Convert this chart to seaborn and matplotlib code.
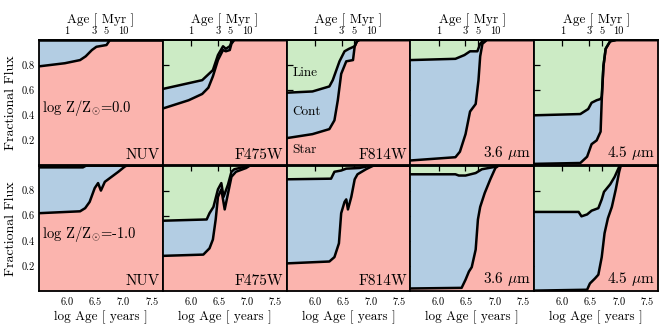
import numpy as np
import pandas as pd
import matplotlib
matplotlib.use("Agg")
import matplotlib.pyplot as plt
import seaborn as sns

# ---------------- data ----------------
bands = ["NUV", "F475W", "F814W", "3.6 $\\mu$m", "4.5 $\\mu$m"]
metallicities = ["0.0", "-1.0"]
xtick_vals = [6.0, 6.5, 7.0, 7.5]
ytick_vals = [0.2, 0.4, 0.6, 0.8]
top_tick_myr = [1, 3, 5, 10]
component_labels = ["Line", "Cont", "Star"]
component_label_y = [0.74, 0.43, 0.12]

# log Z/Zsun = 0.0
nuv_z0_star_x = [5.5, 5.96, 6.23, 6.33, 6.44, 6.52, 6.70, 6.73, 6.76, 7.7]
nuv_z0_star_y = [0.79, 0.815, 0.84, 0.87, 0.92, 0.946, 0.96, 0.98, 1.0, 1.0]
nuv_z0_cont_x = [5.5, 7.7]
nuv_z0_cont_y = [1.0, 1.0]

f475_z0_star_x = [5.5, 5.96, 6.20, 6.31, 6.39, 6.48, 6.57, 6.62, 6.69, 6.72, 6.77, 7.7]
f475_z0_star_y = [0.454, 0.52, 0.57, 0.62, 0.71, 0.84, 0.92, 0.91, 0.92, 0.97, 1.0, 1.0]
f475_z0_cont_x = [5.5, 6.20, 6.39, 6.48, 6.57, 6.62, 6.69, 6.73, 6.77, 7.7]
f475_z0_cont_y = [0.61, 0.68, 0.76, 0.88, 0.95, 0.93, 0.95, 0.99, 1.0, 1.0]

f814_z0_star_x = [5.5, 5.96, 6.26, 6.35, 6.41, 6.47, 6.56, 6.68, 6.71, 6.76, 7.7]
f814_z0_star_y = [0.218, 0.25, 0.29, 0.36, 0.52, 0.73, 0.83, 0.84, 0.95, 1.0, 1.0]
f814_z0_cont_x = [5.5, 5.96, 6.26, 6.32, 6.44, 6.53, 6.61, 6.71, 6.75, 6.80, 7.7]
f814_z0_cont_y = [0.58, 0.59, 0.63, 0.68, 0.83, 0.91, 0.93, 0.95, 0.99, 1.0, 1.0]

i36_z0_star_x = [5.5, 6.30, 6.38, 6.48, 6.56, 6.66, 6.71, 6.74, 6.78, 6.86, 7.7]
i36_z0_star_y = [0.04, 0.066, 0.11, 0.25, 0.43, 0.49, 0.68, 0.87, 0.97, 1.0, 1.0]
i36_z0_cont_x = [5.5, 6.30, 6.46, 6.56, 6.69, 6.74, 6.80, 7.7]
i36_z0_cont_y = [0.84, 0.85, 0.88, 0.91, 0.91, 0.97, 1.0, 1.0]

i45_z0_star_x = [5.5, 6.32, 6.44, 6.52, 6.61, 6.68, 6.70, 6.73, 6.77, 6.85, 6.96, 7.7]
i45_z0_star_y = [0.013, 0.02, 0.07, 0.17, 0.2, 0.27, 0.52, 0.79, 0.93, 0.99, 1.0, 1.0]
i45_z0_cont_x = [5.5, 6.32, 6.46, 6.52, 6.61, 6.68, 6.70, 6.73, 6.77, 6.85, 6.96, 7.7]
i45_z0_cont_y = [0.40, 0.41, 0.45, 0.50, 0.52, 0.53, 0.55, 0.79, 0.93, 0.99, 1.0, 1.0]

# log Z/Zsun = -1.0
nuv_zm1_star_x = [5.5, 6.23, 6.32, 6.40, 6.49, 6.55, 6.60, 6.67, 6.79, 6.91, 7.02, 7.06, 7.7]
nuv_zm1_star_y = [0.62, 0.635, 0.66, 0.71, 0.82, 0.86, 0.80, 0.87, 0.91, 0.95, 0.99, 1.0, 1.0]
nuv_zm1_cont_x = [5.5, 6.28, 6.34, 7.7]
nuv_zm1_cont_y = [0.985, 0.985, 1.0, 1.0]

f475_zm1_star_x = [5.5, 6.22, 6.33, 6.39, 6.44, 6.48, 6.54, 6.60, 6.66, 6.72, 6.80, 6.98, 7.05, 7.7]
f475_zm1_star_y = [0.28, 0.29, 0.34, 0.41, 0.57, 0.75, 0.81, 0.65, 0.78, 0.91, 0.95, 0.98, 1.0, 1.0]
f475_zm1_cont_x = [5.5, 6.28, 6.33, 6.40, 6.48, 6.54, 6.58, 6.66, 6.72, 6.77, 7.05, 7.7]
f475_zm1_cont_y = [0.56, 0.57, 0.62, 0.67, 0.81, 0.86, 0.75, 0.85, 0.95, 0.97, 1.0, 1.0]

f814_zm1_star_x = [5.5, 6.26, 6.35, 6.43, 6.47, 6.53, 6.56, 6.59, 6.65, 6.71, 6.76, 6.91, 7.00, 7.05, 7.7]
f814_zm1_star_y = [0.22, 0.235, 0.27, 0.38, 0.62, 0.71, 0.73, 0.65, 0.75, 0.89, 0.93, 0.97, 0.99, 1.0, 1.0]
f814_zm1_cont_x = [5.5, 6.29, 6.35, 6.47, 6.56, 6.79, 7.01, 7.7]
f814_zm1_cont_y = [0.89, 0.895, 0.95, 0.96, 0.975, 0.98, 1.0, 1.0]

i36_zm1_star_x = [5.5, 6.41, 6.48, 6.54, 6.59, 6.66, 6.70, 6.74, 6.82, 6.92, 6.97, 7.01, 7.07, 7.7]
i36_zm1_star_y = [0.02, 0.025, 0.09, 0.155, 0.19, 0.33, 0.57, 0.67, 0.78, 0.89, 0.94, 0.98, 1.0, 1.0]
i36_zm1_cont_x = [5.5, 6.30, 6.36, 6.48, 6.66, 6.77, 7.01, 7.07, 7.7]
i36_zm1_cont_y = [0.93, 0.93, 0.92, 0.92, 0.94, 0.97, 0.99, 1.0, 1.0]

i45_zm1_star_x = [5.5, 6.44, 6.49, 6.58, 6.64, 6.70, 6.75, 6.81, 6.88, 6.95, 7.01, 7.04, 7.7]
i45_zm1_star_y = [0.003, 0.01, 0.06, 0.10, 0.13, 0.27, 0.46, 0.58, 0.67, 0.81, 0.95, 1.0, 1.0]
i45_zm1_cont_x = [5.5, 6.29, 6.34, 6.44, 6.52, 6.64, 6.70, 6.74, 6.85, 6.93, 7.01, 7.04, 7.7]
i45_zm1_cont_y = [0.63, 0.63, 0.595, 0.61, 0.64, 0.66, 0.73, 0.79, 0.85, 0.91, 0.99, 1.0, 1.0]

panels = [
    [(nuv_z0_star_x, nuv_z0_star_y, nuv_z0_cont_x, nuv_z0_cont_y),
     (f475_z0_star_x, f475_z0_star_y, f475_z0_cont_x, f475_z0_cont_y),
     (f814_z0_star_x, f814_z0_star_y, f814_z0_cont_x, f814_z0_cont_y),
     (i36_z0_star_x, i36_z0_star_y, i36_z0_cont_x, i36_z0_cont_y),
     (i45_z0_star_x, i45_z0_star_y, i45_z0_cont_x, i45_z0_cont_y)],
    [(nuv_zm1_star_x, nuv_zm1_star_y, nuv_zm1_cont_x, nuv_zm1_cont_y),
     (f475_zm1_star_x, f475_zm1_star_y, f475_zm1_cont_x, f475_zm1_cont_y),
     (f814_zm1_star_x, f814_zm1_star_y, f814_zm1_cont_x, f814_zm1_cont_y),
     (i36_zm1_star_x, i36_zm1_star_y, i36_zm1_cont_x, i36_zm1_cont_y),
     (i45_zm1_star_x, i45_zm1_star_y, i45_zm1_cont_x, i45_zm1_cont_y)],
]

# ---------------- style ----------------
sns.set_style("ticks")
plt.rcParams["font.family"] = ["cmr10", "DejaVu Serif"]
plt.rcParams["mathtext.fontset"] = "cm"
plt.rcParams["axes.unicode_minus"] = False
plt.rcParams["axes.formatter.use_mathtext"] = True
plt.rcParams["axes.linewidth"] = 1.3
plt.rcParams["axes.edgecolor"] = "black"
plt.rcParams["xtick.color"] = "black"
plt.rcParams["ytick.color"] = "black"
plt.rcParams["text.color"] = "black"
plt.rcParams["axes.labelcolor"] = "black"

RED = "#fbb4ae"
BLUE = "#b3cde3"
GREEN = "#ccebc5"
XLIM = (5.5, 7.7)
TICK_FS = 7.5

fig, axes = plt.subplots(2, 5, figsize=(6.64, 3.32), dpi=100)
fig.subplots_adjust(left=39 / 664, right=658 / 664, top=1 - 40 / 332,
                    bottom=1 - 291 / 332, wspace=0, hspace=0)


def to_myr(x):
    return 10 ** (np.asarray(x, dtype=float) - 6.0)


def from_myr(m):
    return np.log10(np.maximum(np.asarray(m, dtype=float), 1e-12)) + 6.0


for r in range(2):
    for c in range(5):
        ax = axes[r, c]
        sx, sy, cx, cy = panels[r][c]
        ax.set_facecolor(GREEN)
        ax.fill_between(cx, 0, cy, color=BLUE, lw=0, zorder=1)
        ax.fill_between(sx, 0, sy, color=RED, lw=0, zorder=2)
        sns.lineplot(x=cx, y=cy, ax=ax, color="k", lw=1.8, estimator=None,
                     sort=False, zorder=3)
        sns.lineplot(x=sx, y=sy, ax=ax, color="k", lw=1.8, estimator=None,
                     sort=False, zorder=3)
        ax.set_xlim(*XLIM)
        ax.set_ylim(0, 1)
        ax.set_xticks(xtick_vals)
        ax.set_yticks(ytick_vals)
        ax.tick_params(axis="both", which="major", direction="in", length=4,
                       width=0.9, labelsize=TICK_FS, pad=3,
                       left=True, right=True, bottom=True, top=False)
        ax.tick_params(axis="x", pad=5)
        if c == 0:
            ax.set_yticklabels([f"{v:.1f}" for v in ytick_vals])
            ax.set_ylabel("Fractional Flux", fontsize=10, labelpad=3)
        else:
            ax.set_yticklabels([])
            ax.set_ylabel("")
        if r == 1:
            ax.set_xticklabels([f"{v:.1f}" for v in xtick_vals])
            ax.set_xlabel("log Age [ years ]", fontsize=9.5, labelpad=2)
        else:
            ax.set_xticklabels([])
            ax.set_xlabel("")

        sec = ax.secondary_xaxis("top", functions=(to_myr, from_myr))
        sec.set_xticks(top_tick_myr)
        sec.tick_params(direction="in", length=4, width=0.9, labelsize=TICK_FS,
                        pad=3)
        if r == 0:
            sec.set_xticklabels([str(v) for v in top_tick_myr])
            sec.set_xlabel("Age [ Myr ]", fontsize=9.5, labelpad=2.5)
        else:
            sec.set_xticklabels([])

        ax.text(0.975, 0.025, bands[c], transform=ax.transAxes, ha="right",
                va="bottom", fontsize=11, zorder=5)
        if c == 0:
            ax.text(0.025, 0.456, "log Z/Z$_{\\odot}$=" + metallicities[r],
                    transform=ax.transAxes, ha="left", va="center",
                    fontsize=10.5, zorder=5)
        if r == 0 and c == 2:
            for lab, yy in zip(component_labels, component_label_y):
                ax.text(0.045, yy, lab, transform=ax.transAxes, ha="left",
                        va="center", fontsize=9.5, zorder=5)
        for sp in ax.spines.values():
            sp.set_zorder(6)

fig.savefig("out.png", dpi=100)
